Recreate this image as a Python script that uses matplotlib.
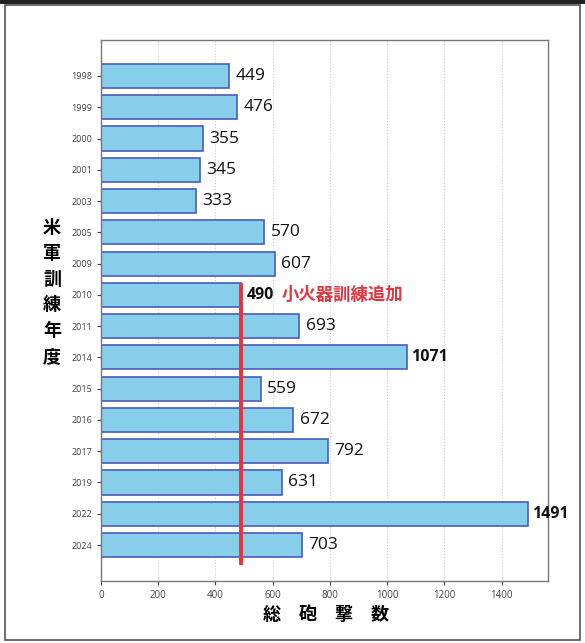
import numpy as np
import matplotlib.pyplot as plt
from matplotlib.patches import Rectangle

plt.rcParams['font.family'] = ['Open Sans', 'Noto Sans CJK JP', 'DejaVu Sans']

years = ['1998', '1999', '2000', '2001', '2003', '2005', '2009', '2010',
         '2011', '2014', '2015', '2016', '2017', '2019', '2022', '2024']
shots = [449, 476, 355, 345, 333, 570, 607, 490,
         693, 1071, 559, 672, 792, 631, 1491, 703]
bold_years = ['2014', '2022']
marker_value = 490
marker_text = '小火器訓練追加'

bar_color = '#87ceeb'
edge_color = '#4a5bbf'
red = '#e8333c'

fig = plt.figure(figsize=(5.85, 6.43), dpi=100)
ax = fig.add_axes([101 / 585, 1 - 581 / 643, 447 / 585, 541 / 643])

# outer frame of the picture
fig.patches.append(Rectangle((0.008, 0.004), 0.984, 0.988, transform=fig.transFigure,
                             fill=False, edgecolor='#555555', linewidth=1.2))
fig.patches.append(Rectangle((0, 0.994), 1, 0.006, transform=fig.transFigure,
                             facecolor='#222222', edgecolor='none'))

y = np.arange(len(years))
ax.barh(y, shots, height=0.77, color=bar_color, edgecolor=edge_color, linewidth=1.2, zorder=2)

for yi, yr, v in zip(y, years, shots):
    if yr == '2010':
        continue
    bold = yr in bold_years
    ax.text(v + (14 if bold else 22), yi, str(v), va='center', ha='left',
            fontsize=11.5 if bold else 12.5,
            fontweight='bold' if bold else 'normal', color='#111111', zorder=3)

i2010 = years.index('2010')
ax.vlines(marker_value, len(years) - 1 + 0.64, i2010 - 0.38, color=red, linewidth=2.8, zorder=4)
ax.text(marker_value + 20, i2010, str(marker_value), va='center', ha='left', fontsize=11.5,
        fontweight='bold', color='#111111')
ax.text(marker_value + 140, i2010, marker_text, va='center', ha='left', fontsize=12.5,
        fontweight='bold', color=red, family=['Noto Sans CJK JP', 'DejaVu Sans'])

ax.set_yticks(y)
ax.set_yticklabels(years, fontsize=6.5, color='#333333')
ax.set_ylim(len(years) - 1 + 1.15, -1.15)
ax.set_xlim(0, 1562)
ax.set_xticks(np.arange(0, 1401, 200))
ax.tick_params(axis='x', labelsize=7, colors='#444444', length=3)
ax.tick_params(axis='y', length=3, colors='#444444')
ax.grid(axis='x', linestyle=':', color='#cccccc', linewidth=0.8, zorder=0)
ax.set_axisbelow(True)
for s in ax.spines.values():
    s.set_color('#777777')
    s.set_linewidth(1.0)

fig.text(52 / 585, 1 - 292 / 643, '米\n軍\n訓\n練\n年\n度', ha='center', va='center',
         fontsize=13, fontweight='bold', linespacing=1.45,
         family=['Noto Sans CJK JP', 'DejaVu Sans'])
fig.text(326 / 585, 1 - 615 / 643, '総\u3000砲\u3000撃\u3000数', ha='center', va='center',
         fontsize=13, fontweight='bold', family=['Noto Sans CJK JP', 'DejaVu Sans'])

fig.savefig('out.png', dpi=100)
